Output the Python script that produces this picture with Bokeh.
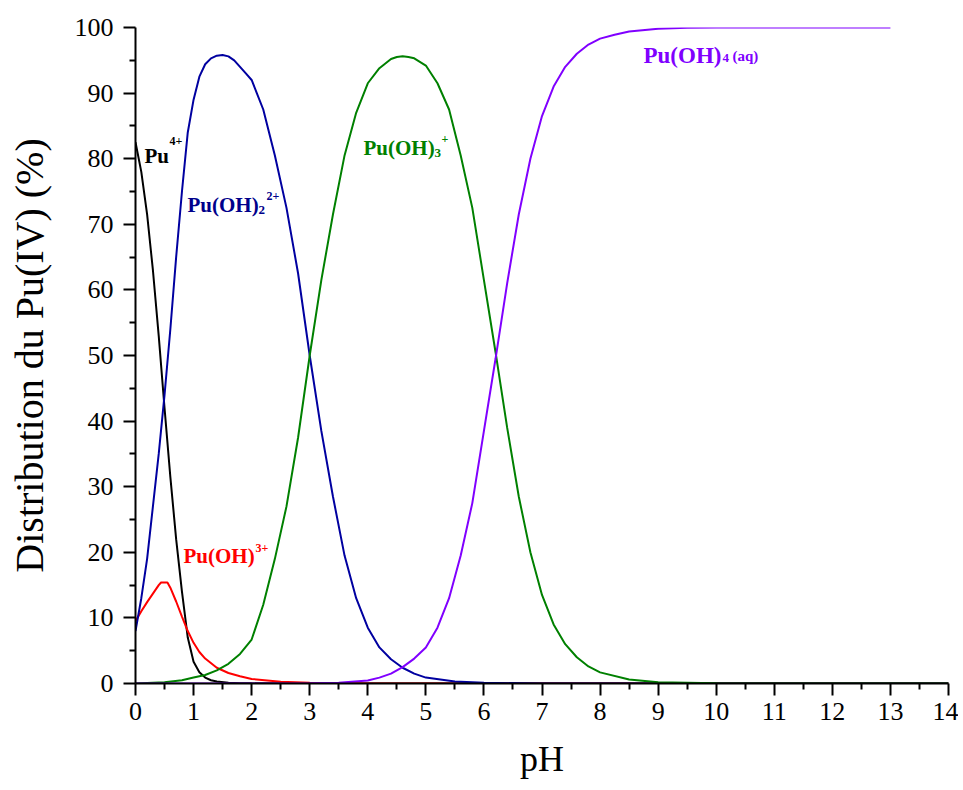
from bokeh.plotting import figure
from bokeh.models import Range1d, FixedTicker, Label
from bokeh.embed import file_html
from bokeh.resources import INLINE

# ---- data ----
ph_pu4 = [0, 0.1, 0.2, 0.3, 0.4, 0.5, 0.6, 0.7, 0.8, 0.9, 1.0, 1.1, 1.2, 1.3, 1.4, 1.6, 1.8, 2.0, 3.0, 14]
pu4 = [82.5, 78, 71.5, 63, 53, 42, 31.5, 22, 14, 7, 3.3, 1.7, 0.9, 0.5, 0.3, 0.1, 0.04, 0.02, 0, 0]

ph_puoh = [0, 0.1, 0.2, 0.3, 0.4, 0.44, 0.55, 0.6, 0.7, 0.8, 0.9, 1.0, 1.1, 1.2, 1.4, 1.6, 1.8, 2.0, 2.5, 3.0, 4.0, 14]
puoh = [9.5, 11, 12.4, 13.7, 15.0, 15.4, 15.4, 14.6, 12.5, 10.2, 8.0, 6.2, 4.8, 3.8, 2.4, 1.6, 1.1, 0.7, 0.25, 0.1, 0, 0]

ph_puoh2 = [0, 0.1, 0.2, 0.3, 0.4, 0.5, 0.6, 0.7, 0.8, 0.9, 1.0, 1.1, 1.2, 1.3, 1.4, 1.5, 1.6, 1.7, 1.8, 1.9, 2.0,
            2.2, 2.4, 2.6, 2.8, 3.0, 3.2, 3.4, 3.6, 3.8, 4.0, 4.2, 4.4, 4.6, 4.8, 5.0, 5.5, 6.0, 7.0, 14]
puoh2 = [8, 13, 19, 27, 35, 44, 54, 65, 75, 84, 89, 92.5, 94.4, 95.3, 95.7, 95.8, 95.6, 95.0, 94.0, 93.0, 92.0,
         87.5, 80.5, 72.5, 62.5, 50, 38.5, 28.5, 19.5, 13, 8.5, 5.5, 3.7, 2.4, 1.5, 0.9, 0.3, 0.1, 0, 0]

ph_puoh3 = [0, 0.5, 0.8, 1.0, 1.2, 1.4, 1.6, 1.8, 2.0, 2.2, 2.4, 2.6, 2.8, 3.0, 3.2, 3.4, 3.6, 3.8, 4.0, 4.2, 4.4,
            4.5, 4.6, 4.7, 4.8, 5.0, 5.2, 5.4, 5.6, 5.8, 6.0, 6.2, 6.4, 6.6, 6.8, 7.0, 7.2, 7.4, 7.6, 7.8, 8.0,
            8.5, 9.0, 10, 14]
puoh3 = [0, 0.2, 0.5, 0.9, 1.3, 2.0, 3.0, 4.5, 6.7, 12, 19, 27, 37.5, 50, 61.5, 71.5, 80.5, 87, 91.5, 93.8, 95.2,
         95.5, 95.6, 95.5, 95.3, 94.2, 91.5, 87.5, 80.5, 72.5, 61.5, 50.5, 39, 28.5, 20, 13.5, 9, 6, 4, 2.6, 1.7,
         0.6, 0.2, 0.02, 0]

ph_puoh4 = [0, 3.0, 3.5, 4.0, 4.2, 4.4, 4.6, 4.8, 5.0, 5.2, 5.4, 5.6, 5.8, 6.0, 6.2, 6.4, 6.6, 6.8, 7.0, 7.2, 7.4,
            7.6, 7.8, 8.0, 8.25, 8.5, 9.0, 9.5, 10, 13]
puoh4 = [0, 0.02, 0.12, 0.45, 0.9, 1.5, 2.5, 3.8, 5.5, 8.5, 13, 19.5, 27.5, 38.5, 49.5, 61, 71.5, 80, 86.5, 91, 94,
         96, 97.4, 98.3, 98.9, 99.4, 99.8, 99.95, 100, 100]

x_ticks = list(range(0, 15))
x_minor = [i + 0.5 for i in range(14)]
y_ticks = list(range(0, 101, 10))
y_minor = list(range(5, 100, 10))

series = [
    (ph_pu4, pu4, "#000000"),
    (ph_puoh, puoh, "#FF0000"),
    (ph_puoh2, puoh2, "#0000A0"),
    (ph_puoh3, puoh3, "#008000"),
    (ph_puoh4, puoh4, "#8000FF"),
]

# label pieces: text, x, y (anchor of the species name), dx, dy (px), size, color
labels = [
    ("Pu", 0.155, 79.4, 0, 0, "21px", "#000000"),
    ("4+", 0.155, 79.4, 25, 15, "12px", "#000000"),
    ("Pu(OH)", 0.895, 71.8, 0, 0, "21px", "#00008B"),
    ("2", 0.895, 71.8, 71, -5, "13px", "#00008B"),
    ("2+", 0.895, 71.8, 79, 9, "12px", "#00008B"),
    ("Pu(OH)", 0.827, 18.3, 0, 0, "21px", "#FF0000"),
    ("3+", 0.827, 18.3, 72, 8, "12px", "#FF0000"),
    ("Pu(OH)", 3.926, 80.5, 0, 0, "21px", "#008000"),
    ("3", 3.926, 80.5, 71, -5, "13px", "#008000"),
    ("+", 3.926, 80.5, 78, 9, "12px", "#008000"),
    ("Pu(OH)", 8.748, 94.7, 0, 0, "23px", "#8000FF"),
    ("4", 8.748, 94.7, 79, -3, "13px", "#8000FF"),
    ("(aq)", 8.748, 94.7, 89, -1, "15px", "#8000FF"),
]
LABEL_LIFT = 7  # px

x_title = "pH"
y_title = "Distribution du Pu(IV) (%)"

FONT = "Liberation Serif"

p = figure(frame_width=813, frame_height=656,
           x_range=Range1d(0, 14), y_range=Range1d(0, 100),
           output_backend="svg", toolbar_location=None,
           min_border_left=135, min_border_right=10, min_border_top=27, min_border_bottom=100,
           x_axis_label=x_title, y_axis_label=y_title)
p.xgrid.visible = False
p.ygrid.visible = False
p.outline_line_color = None
p.background_fill_color = "white"
p.border_fill_color = "white"

for xs, ys, c in series:
    p.line(xs, ys, line_color=c, line_width=2)

for ax in (p.xaxis[0], p.yaxis[0]):
    ax.axis_line_width = 2
    ax.axis_line_color = "black"
    ax.major_tick_line_width = 2
    ax.minor_tick_line_width = 2
    ax.major_tick_in = 0
    ax.major_tick_out = 12
    ax.minor_tick_in = 0
    ax.minor_tick_out = 6
    ax.major_label_text_font = FONT
    ax.major_label_text_font_size = "26px"
    ax.major_label_text_color = "black"
    ax.axis_label_text_font = FONT
    ax.axis_label_text_font_style = "normal"
    ax.axis_label_text_color = "black"

p.yaxis.axis_label_text_font_size = "40px"
p.xaxis.axis_label_text_font_size = "36px"
p.xaxis.ticker = FixedTicker(ticks=x_ticks, minor_ticks=x_minor)
p.yaxis.ticker = FixedTicker(ticks=y_ticks, minor_ticks=y_minor)
p.xaxis.major_label_standoff = 7
p.yaxis.major_label_standoff = 10
p.yaxis.axis_label_standoff = 20
p.xaxis.axis_label_standoff = 16

for txt, x, y, dx, dy, size, col in labels:
    p.add_layout(Label(x=x, y=y, x_offset=dx, y_offset=dy + LABEL_LIFT, text=txt,
                       text_font=FONT, text_font_style="bold", text_font_size=size,
                       text_color=col, text_align="left", text_baseline="alphabetic"))

open("out.html", "w").write(file_html(p, INLINE))
